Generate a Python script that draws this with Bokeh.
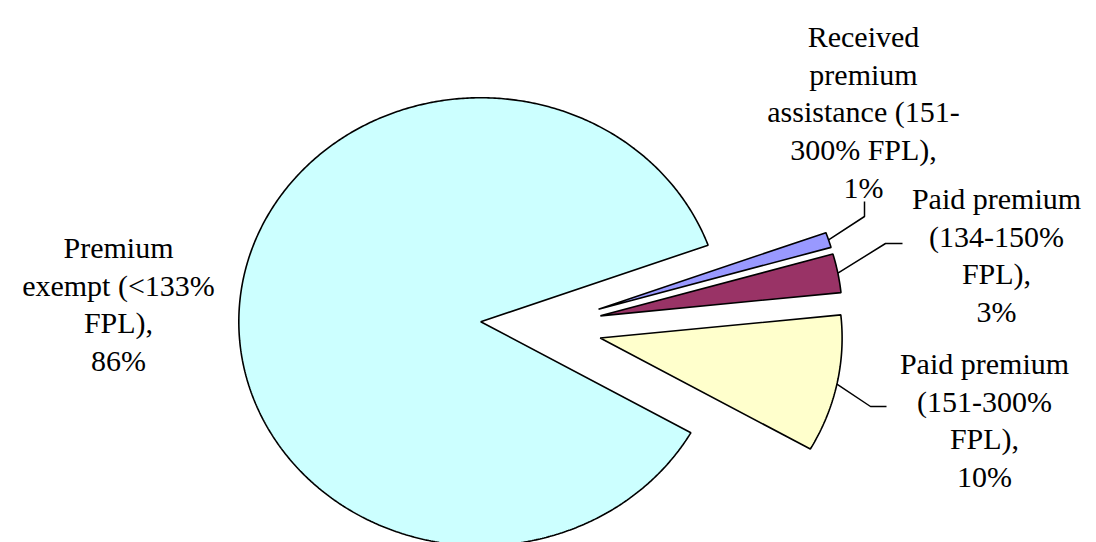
import numpy as np
from bokeh.plotting import figure
from bokeh.models import Range1d
from bokeh.core.properties import value
from bokeh.embed import file_html
from bokeh.resources import INLINE

# ---- data ----
categories = [
    "Premium exempt (<133% FPL)",
    "Received premium assistance (151-300% FPL)",
    "Paid premium (134-150% FPL)",
    "Paid premium (151-300% FPL)",
]
shares = [86.2, 1.1, 2.8, 9.9]
colors = ["#CCFFFF", "#9999FF", "#993366", "#FFFFCC"]
label_lines = [
    ["Premium", "exempt (<133%", "FPL),"],
    ["Received", "premium", "assistance (151-", "300% FPL),"],
    ["Paid premium", "(134-150%", "FPL),"],
    ["Paid premium", "(151-300%", "FPL),"],
]

# ---- layout constants ----
W, H = 1096, 542
CX, CY = 540.5, 326.0      # pie centre (pixels, y down)
R = 224.0                  # radius (vertical pixels)
SX = 1.08                  # horizontal stretch of the pie
EXPL = 0.25 * R            # explosion distance
START = 330.3              # math angle where the first slice starts (clockwise order)
FONT = "Liberation Serif"
FS = 30
LINE_H = 37.7
label_pos = [(118, 247), (863, 36), (996, 198), (984, 363)]   # centre x, first baseline
leader_elbows = [None, [(864, 216), (864, 201)], [(885, 243), (902, 243)], [(870, 406), (886, 406)]]

# Times-metric advance widths (per 1000 em) used to centre left-aligned text
ADV = {" ": 250, "(": 333, ")": 333, ",": 250, "-": 333, "%": 833, "<": 564,
       "P": 556, "F": 556, "L": 611, "R": 667,
       "a": 444, "c": 444, "d": 500, "e": 444, "i": 278, "m": 778, "n": 500,
       "p": 500, "r": 333, "s": 389, "t": 278, "u": 500, "v": 500, "x": 500}


def text_width(s):
    return FS * sum(ADV.get(c, 500) for c in s) / 1000.0


p = figure(width=W, height=H, x_range=Range1d(0, W), y_range=Range1d(H, 0),
           output_backend="svg", toolbar_location=None, min_border=0,
           x_axis_location=None, y_axis_location=None)
p.grid.visible = False
p.outline_line_color = None

total = float(sum(shares))
xs, ys, mids, apexes = [], [], [], []
a0 = np.radians(START)
for v in shares:
    span = v / total * 2 * np.pi
    a1 = a0 - span
    mid = (a0 + a1) / 2
    ax = CX + SX * EXPL * np.cos(mid)
    ay = CY - EXPL * np.sin(mid)
    th = np.linspace(a0, a1, max(8, int(span / np.radians(0.5))))
    px = [ax] + list(ax + SX * R * np.cos(th)) + [ax]
    py = [ay] + list(ay - R * np.sin(th)) + [ay]
    xs.append(px); ys.append(py); mids.append(mid); apexes.append((ax, ay))
    a0 = a1

p.patches(xs=xs, ys=ys, fill_color=colors, line_color="black", line_width=1.6)

# leader lines from arc midpoint
lx, ly = [], []
for i, el in enumerate(leader_elbows):
    if el is None:
        continue
    ax, ay = apexes[i]
    sx0 = ax + SX * R * np.cos(mids[i])
    sy0 = ay - R * np.sin(mids[i])
    lx.append([sx0] + [e[0] for e in el])
    ly.append([sy0] + [e[1] for e in el])
p.multi_line(xs=lx, ys=ly, line_color="black", line_width=1.5)

# labels: one left-aligned text glyph per line
for i, lines in enumerate(label_lines):
    full = lines + [f"{round(shares[i])}%"]
    x0, y0 = label_pos[i]
    for j, s in enumerate(full):
        p.text(x=[x0 - text_width(s) / 2], y=[y0 + j * LINE_H], text=[s],
               text_font=value(FONT), text_font_size=f"{FS}px",
               text_baseline="alphabetic", text_color="black")

open("out.html", "w").write(file_html(p, INLINE))
